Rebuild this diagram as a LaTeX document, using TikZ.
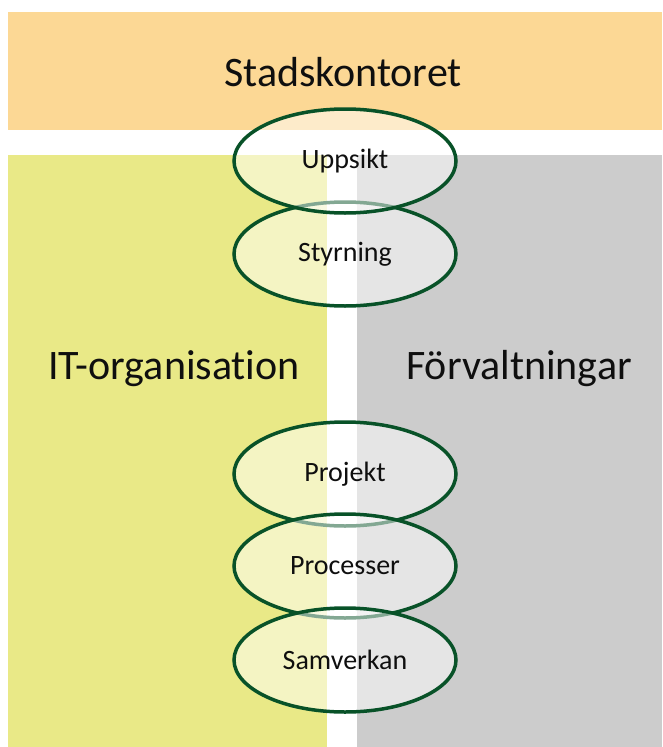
\documentclass[tikz,border=0pt]{standalone}
\usepackage{fontspec}
\setmainfont{Carlito}[Ligatures=NoCommon]
\usetikzlibrary{shapes.geometric}
\definecolor{orangebg}{RGB}{252,216,149}
\definecolor{greenbg}{RGB}{233,233,135}
\definecolor{graybg}{RGB}{204,204,204}
\definecolor{ringgreen}{RGB}{8,82,40}
\definecolor{txt}{RGB}{15,15,15}
\begin{document}
\begin{tikzpicture}[x=1pt,y=-1pt,
  ring/.style={ellipse,draw=ringgreen,line width=3.5pt,fill=white,fill opacity=0.5,text opacity=1,
    minimum width=222pt,minimum height=104pt,inner sep=0pt,font=\fontsize{28}{32}\selectfont,text=txt},
  bigtxt/.style={font=\fontsize{42}{48}\selectfont,text=txt,inner sep=0pt}]
\useasboundingbox (0,0) rectangle (662,747);
\fill[orangebg] (8,12) rectangle (662,130);
\fill[greenbg] (8,155) rectangle (327,747);
\fill[graybg] (357,155) rectangle (662,747);
\node[bigtxt] (stad) at (343,72) {Stadskontoret};
\node[bigtxt] (itorg) at (174,369) {IT-organisation};
\node[bigtxt] (forv) at (519,369) {Förvaltningar};
\node[ring] (styr) at (345,254) {Styrning};
\node[ring] (upp) at (345,161) {Uppsikt};
\node[ring] (proj) at (345,474) {Projekt};
\node[ring] (proc) at (345,566) {Processer};
\node[ring] (samv) at (345,660) {Samverkan};
\end{tikzpicture}
\end{document}
